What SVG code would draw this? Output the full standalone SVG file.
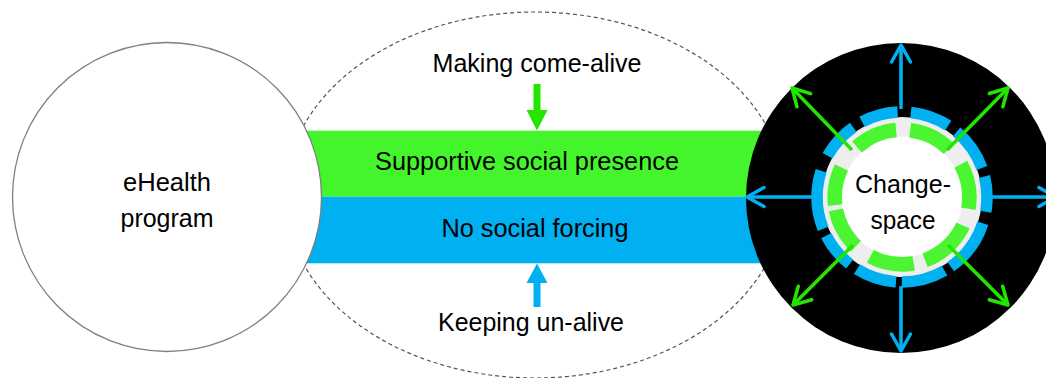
<svg xmlns="http://www.w3.org/2000/svg" width="1046" height="378" viewBox="0 0 1046 378">
  <defs>
    <style>
      .lbl { font-family: "Liberation Sans", Arial, sans-serif; font-size: 26.5px; fill: #000; text-anchor: middle; }
      .ray-b { stroke: #00b0f0; stroke-width: 3.5; fill: none; marker-end: url(#chevB); }
      .ray-g { stroke: #22e600; stroke-width: 3.5; fill: none; marker-end: url(#chevG); }
    </style>
    <marker id="chevB" viewBox="0 0 24 24" refX="21" refY="12" markerWidth="24" markerHeight="24" markerUnits="userSpaceOnUse" orient="auto" overflow="visible">
      <path d="M4,2.5 L21,12 L4,21.5" fill="none" stroke="#00b0f0" stroke-width="3.5" stroke-linecap="round" stroke-linejoin="round"/>
    </marker>
    <marker id="chevG" viewBox="0 0 24 24" refX="21" refY="12" markerWidth="24" markerHeight="24" markerUnits="userSpaceOnUse" orient="auto" overflow="visible">
      <path d="M4,2.5 L21,12 L4,21.5" fill="none" stroke="#22e600" stroke-width="3.5" stroke-linecap="round" stroke-linejoin="round"/>
    </marker>
  </defs>

  <rect x="0" y="0" width="1046" height="378" fill="#ffffff"/>

  <g id="mechanism">
    <ellipse cx="535" cy="195" rx="250" ry="183" fill="none" stroke="#555555" stroke-width="1.2" stroke-dasharray="4 3"/>
    <rect id="band-supportive" x="290" y="130.7" width="480" height="66" fill="#44f52c"/>
    <rect id="band-noforcing" x="290" y="196.7" width="480" height="66.6" fill="#00b0f0"/>
    <text class="lbl" x="527" y="170" textLength="304" lengthAdjust="spacingAndGlyphs">Supportive social presence</text>
    <text class="lbl" x="535" y="236.5" textLength="187" lengthAdjust="spacingAndGlyphs">No social forcing</text>
  </g>

  <g id="ehealth">
    <circle cx="167" cy="197" r="154.5" fill="#ffffff" stroke="#7f7f7f" stroke-width="1.3"/>
    <text class="lbl" x="167" y="191" textLength="88" lengthAdjust="spacingAndGlyphs">eHealth</text>
    <text class="lbl" x="167" y="226.5" textLength="93" lengthAdjust="spacingAndGlyphs">program</text>
  </g>

  <g id="changespace">
    <circle cx="901" cy="198" r="155" fill="#000000"/>
    <circle cx="902" cy="197" r="80" fill="#eeeeee"/>
    <circle cx="902" cy="197" r="60.5" fill="#ffffff"/>
    <circle cx="902" cy="197" r="85" fill="none" stroke="#00b0f0" stroke-width="11.5" pathLength="360" stroke-dasharray="27 7 30 6 24 8 37 5 30 4 28 6 25 5 40 11 26 7 25 9" transform="rotate(-84 902 197)"/>
    <circle cx="902" cy="197" r="67.3" fill="none" stroke="#4cf532" stroke-width="14.6" pathLength="360" stroke-dasharray="37 12 37 17 39 15 45 10 38 15 36 4 33 22" transform="rotate(228 902 197)"/>
    <text class="lbl" x="903" y="193.3" textLength="96" lengthAdjust="spacingAndGlyphs">Change-</text>
    <text class="lbl" x="903" y="229" textLength="65" lengthAdjust="spacingAndGlyphs">space</text>
  </g>

  <g id="connectors">
    <polygon id="arrow-come-alive" points="533.5,84 540.5,84 540.5,110 547.5,110 537,130.5 526.5,110 533.5,110" fill="#22e600"/>
    <polygon id="arrow-un-alive" points="533.5,307 540.5,307 540.5,283 547.5,283 537,263.5 526.5,283 533.5,283" fill="#00b0f0"/>
    <line class="ray-b" x1="901" y1="109" x2="901" y2="45"/>
    <line class="ray-b" x1="901" y1="286" x2="901" y2="351"/>
    <line class="ray-b" x1="812" y1="197" x2="747" y2="197"/>
    <line class="ray-b" x1="992" y1="197" x2="1056" y2="197"/>
    <line class="ray-g" x1="852" y1="150" x2="792" y2="88"/>
    <line class="ray-g" x1="947" y1="150" x2="1008" y2="88"/>
    <line class="ray-g" x1="948" y1="245" x2="1008" y2="305"/>
    <line class="ray-g" x1="853" y1="245" x2="793" y2="305"/>
  </g>

  <g id="labels">
    <text class="lbl" x="537" y="71.5" textLength="209" lengthAdjust="spacingAndGlyphs">Making come-alive</text>
    <text class="lbl" x="531" y="331" textLength="186" lengthAdjust="spacingAndGlyphs">Keeping un-alive</text>
  </g>
</svg>
